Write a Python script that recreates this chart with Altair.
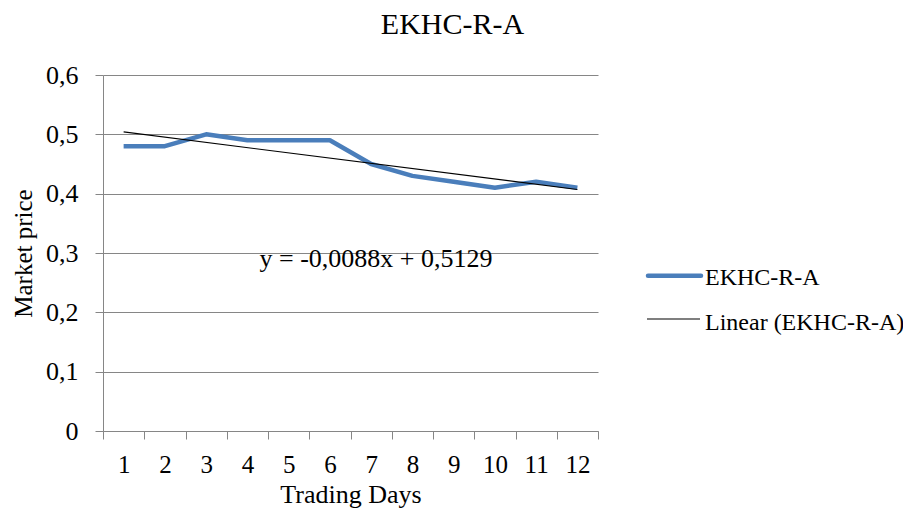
import altair as alt
import pandas as pd

# ---- data ----
days = ["1", "2", "3", "4", "5", "6", "7", "8", "9", "10", "11", "12"]
prices = [0.48, 0.48, 0.50, 0.49, 0.49, 0.49, 0.45, 0.43, 0.42, 0.41, 0.42, 0.41]
trend_days = ["1", "12"]
trend_values = [0.504, 0.407]
y_ticks = [0, 0.1, 0.2, 0.3, 0.4, 0.5, 0.6]
title_text = "EKHC-R-A"
equation_text = "y = -0,0088x + 0,5129"
legend_labels = ["EKHC-R-A", "Linear (EKHC-R-A)"]
x_title = "Trading Days"
y_title = "Market price"

FONT = "Liberation Serif"
BLUE = "#4A7EBB"
GRID = "#868686"
W, H = 495, 356

df = pd.DataFrame({"day": days, "price": prices})
tdf = pd.DataFrame({"day": trend_days, "price": trend_values})
one = pd.DataFrame({"k": [0]})

x_enc = alt.X(
    "day:O",
    sort=days,
    scale=alt.Scale(type="band", domain=days, paddingInner=0, paddingOuter=0),
    axis=alt.Axis(
        title=x_title,
        labelAngle=0,
        tickBand="extent",
        grid=False,
        tickSize=8,
        labelPadding=33,
        labelBaseline="alphabetic",
        labelFontSize=25,
        labelFont=FONT,
        labelColor="black",
        titleFont=FONT,
        titleFontSize=26,
        titleFontWeight="normal",
        titleColor="black",
        titleBaseline="alphabetic",
        titleY=71,
    ),
)

y_enc = alt.Y(
    "price:Q",
    scale=alt.Scale(domain=[0, 0.6], nice=False, zero=True),
    axis=alt.Axis(
        title=y_title,
        values=y_ticks,
        labelExpr="datum.value == 0 ? '0' : replace(format(datum.value, '.1f'), '.', ',')",
        grid=True,
        tickSize=8,
        labelPadding=17,
        labelFontSize=26,
        labelFont=FONT,
        labelColor="black",
        titleFont=FONT,
        titleFontSize=25,
        titleFontWeight="normal",
        titleColor="black",
        titleBaseline="alphabetic",
        titleAlign="center",
        titleAngle=-90,
        titleX=-72,
        titleY=178,
    ),
)

series = alt.Chart(df).mark_line(color=BLUE, strokeWidth=4.5, strokeJoin="round").encode(
    x=x_enc, y=y_enc
)

trend = alt.Chart(tdf).mark_line(color="black", strokeWidth=1.2).encode(
    x=alt.X("day:O", sort=days), y=alt.Y("price:Q")
)


def label(txt, x, y, size, align="left"):
    return alt.Chart(pd.DataFrame({"t": [txt]})).mark_text(
        font=FONT, fontSize=size, align=align, baseline="alphabetic", color="black"
    ).encode(x=alt.value(x), y=alt.value(y), text=alt.Text("t:N"))


title = label(title_text, 349.5, -41, 30, "center")
equation = label(equation_text, 273, 192, 26, "center")

leg_line1 = alt.Chart(one).mark_rule(color=BLUE, strokeWidth=4.5, strokeCap="round").encode(
    x=alt.value(545), x2=alt.value(598), y=alt.value(200.7)
)
leg_text1 = label(legend_labels[0], 602, 210, 24)

leg_line2 = alt.Chart(one).mark_rule(color="black", strokeWidth=1.2).encode(
    x=alt.value(544), x2=alt.value(597), y=alt.value(244)
)
leg_text2 = label(legend_labels[1], 602, 255, 24)

chart = (
    alt.layer(series, trend, equation, title, leg_line1, leg_text1, leg_line2, leg_text2)
    .properties(
        width=W,
        height=H,
        autosize=alt.AutoSizeParams(type="none"),
        padding={"left": 95, "top": 67, "right": 305, "bottom": 77},
        background="white",
    )
    .configure_view(stroke=None)
    .configure_text(font=FONT)
    .configure_axis(
        domainColor=GRID,
        tickColor=GRID,
        gridColor=GRID,
        domainWidth=1,
        tickWidth=1,
        gridWidth=1,
    )
)

chart.save("out.html", embed_options={"renderer": "svg", "actions": False})
